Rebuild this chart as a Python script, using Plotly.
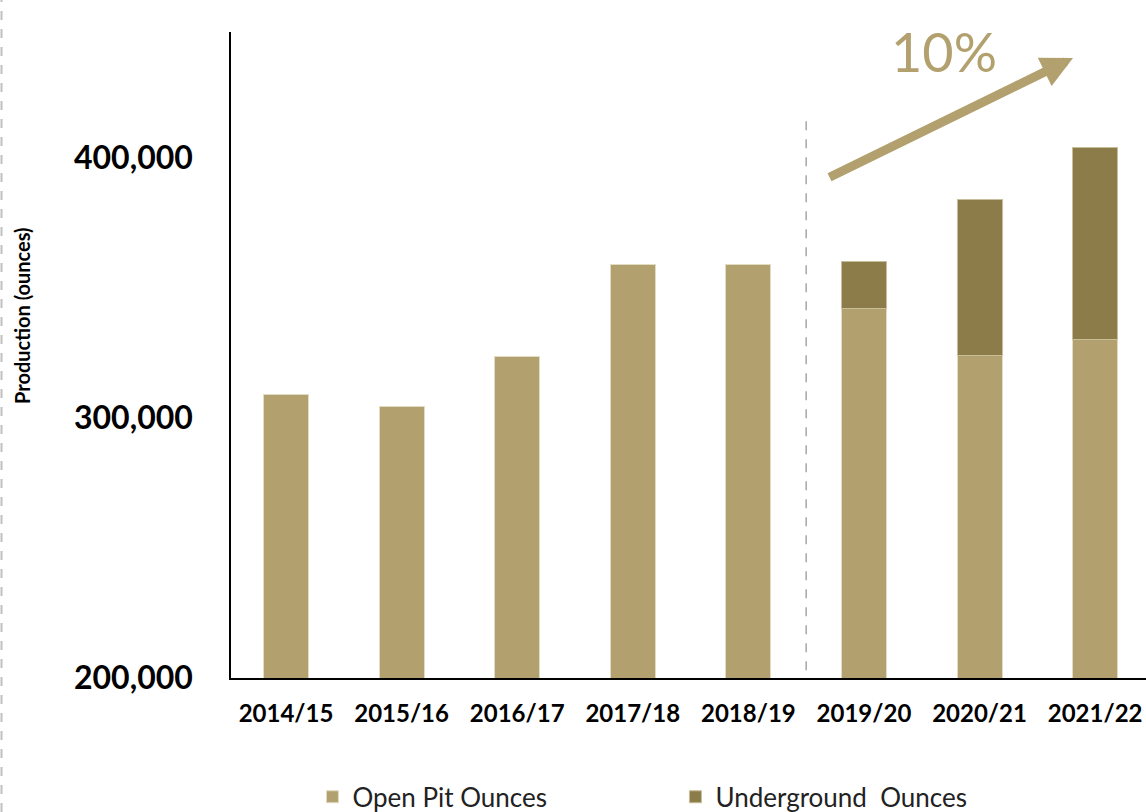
import plotly.graph_objects as go

years = ["2014/15", "2015/16", "2016/17", "2017/18", "2018/19", "2019/20", "2020/21", "2021/22"]
open_pit = [309000, 304500, 323500, 359000, 359000, 342000, 324000, 330000]
underground = [None, None, None, None, None, 18000, 60000, 74000]
y_ticks = [200000, 300000, 400000]
y_tick_text = ["200,000", "300,000", "400,000"]

OPEN_C = "#B2A06E"
UG_C = "#8B7C4A"
FONT = "Lato"

fig = go.Figure()
fig.add_trace(go.Bar(x=years, y=open_pit, name="Open Pit Ounces", marker=dict(color=OPEN_C, line=dict(color="#E3DCC4", width=1)), width=0.39))
fig.add_trace(go.Bar(x=years, y=underground, name="Underground  Ounces", marker=dict(color=UG_C, line=dict(color="#C9BE9A", width=1)), width=0.39))

fig.update_layout(
    barmode="stack",
    width=1146, height=812,
    margin=dict(l=231, r=0, t=32, b=134, autoexpand=False),
    paper_bgcolor="white", plot_bgcolor="white",
    showlegend=True,
    legend=dict(orientation="h", x=0.089, y=-0.184, xanchor="left", yanchor="middle",
                font=dict(family=FONT, size=26, color="#222222"), entrywidth=318, traceorder="normal"),
    xaxis=dict(type="category", range=[-0.476, 7.44], showline=True, linecolor="black", linewidth=1.5,
               showgrid=False, zeroline=False, ticks="", ticklabelstandoff=13, automargin=False,
               tickfont=dict(family=FONT, size=24, color="black", weight="bold")),
    yaxis=dict(range=[200000, 448300], showline=True, linecolor="black", linewidth=1.5,
               showgrid=False, zeroline=False, ticks="", tickvals=y_ticks, ticktext=y_tick_text,
               ticklabelstandoff=30, automargin=False,
               tickfont=dict(family=FONT, size=32, color="black", weight="bold")),
    annotations=[
        dict(text="Production (ounces)", xref="paper", yref="paper", x=(22 - 231) / 915, y=(678 - 316) / 646,
             textangle=-90, showarrow=False, xanchor="center", yanchor="middle",
             font=dict(family=FONT, size=20, color="black", weight="bold")),
        dict(text="", xref="paper", yref="paper", x=(1073 - 231) / 915, y=(678 - 58) / 646,
             ax=828 - 1073, ay=178 - 58, axref="pixel", ayref="pixel", showarrow=True,
             arrowhead=2, arrowsize=0.7, arrowwidth=9, arrowcolor=OPEN_C, standoff=0),
        dict(text="10%", xref="paper", yref="paper", x=(944 - 231) / 915, y=(678 - 51) / 646,
             showarrow=False, xanchor="center", yanchor="middle",
             font=dict(family=FONT, size=54, color=OPEN_C)),
    ],
    shapes=[
        dict(type="line", xref="x", yref="paper", x0=4.5, x1=4.5, y0=0.012, y1=(678 - 115) / 646,
             line=dict(color="#A6A6A6", width=1.5, dash="dash")),
        dict(type="line", xref="paper", yref="paper", x0=(1.5 - 231) / 915, x1=(1.5 - 231) / 915,
             y0=-134 / 646, y1=(678) / 646, line=dict(color="#C0C0C0", width=2, dash="dash")),
    ],
)

fig.write_html("out.html", config={"displayModeBar": False},
               post_script="document.body.style.margin='0';document.body.style.overflow='hidden';")
